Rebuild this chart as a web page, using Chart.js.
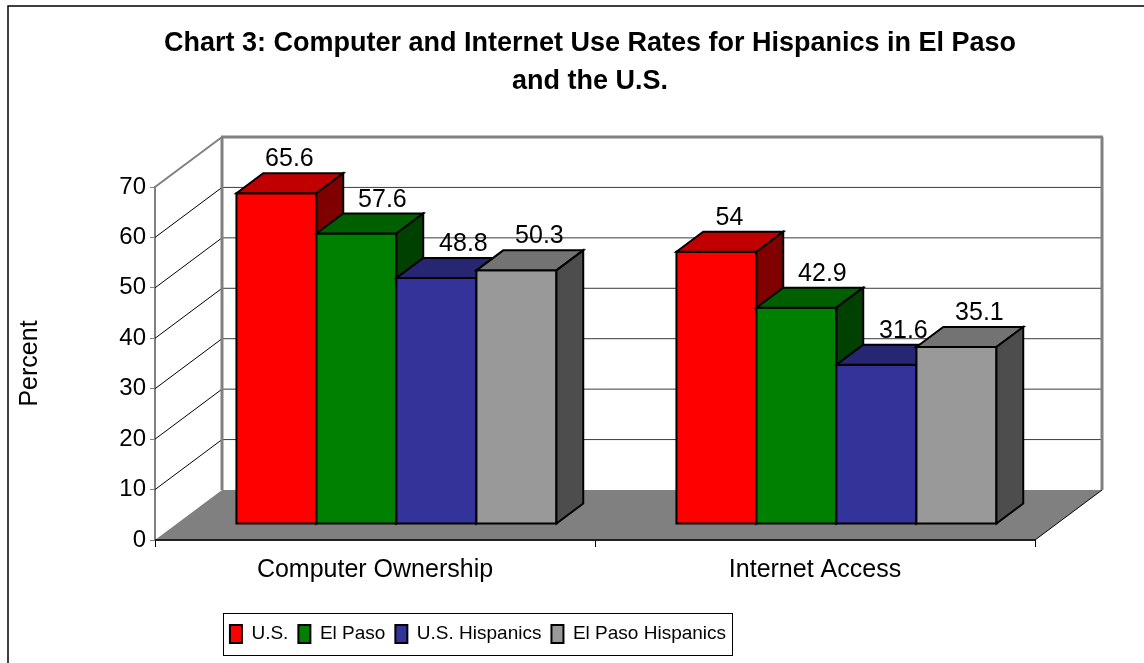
<!DOCTYPE html>
<html>
<head>
<meta charset="utf-8">
<title>Chart 3</title>
<script src="https://cdn.jsdelivr.net/npm/chart.js@4.4.1/dist/chart.umd.min.js"></script>
<style>
  html, body { margin: 0; padding: 0; background: #fff; }
  #wrap { width: 1144px; height: 663px; }
</style>
</head>
<body>
<div id="wrap"><canvas id="chart3" width="1144" height="663"></canvas></div>
<script>
// data
const categories = ["Computer Ownership", "Internet Access"];
const seriesNames = ["U.S.", "El Paso", "U.S. Hispanics", "El Paso Hispanics"];
const usValues = [65.6, 54];
const elPasoValues = [57.6, 42.9];
const usHispanicValues = [48.8, 31.6];
const elPasoHispanicValues = [50.3, 35.1];
const yTicks = [0, 10, 20, 30, 40, 50, 60, 70];

const FONT = '"Liberation Sans", Arial, sans-serif';

// draws the excel-like 3d walls, floor and boxes from the bar elements
const box3d = {
  id: "box3d",
  afterLayout(chart, args, opts) {
    const t = chart.titleBlock;
    const dt = opts.titleCenterX - (t.left + t.right) / 2;
    t.left += dt; t.right += dt;

    const lg = chart.legend;
    const lo = lg.options.labels;
    const dx = opts.legendCenterX - (lg.left + lg.right) / 2;
    const itemH = Math.max(lo.font.size, lo.boxHeight);
    const dy = opts.legendCenterY - (lg.top + lo.padding + itemH / 2);
    lg.left += dx; lg.right += dx;
    lg.top += dy; lg.bottom += dy;
  },
  beforeDatasetsDraw(chart, args, opts) {
    const { ctx, chartArea: a } = chart;
    const y = chart.scales.y;
    const DX = opts.dx, DY = opts.dy;
    const yTop = y.getPixelForValue(y.max);
    const yBot = y.getPixelForValue(y.min);

    const line = (x1, y1, x2, y2, color, w) => {
      ctx.strokeStyle = color; ctx.lineWidth = w;
      ctx.beginPath(); ctx.moveTo(x1, y1); ctx.lineTo(x2, y2); ctx.stroke();
    };
    const poly = (pts, fill) => {
      ctx.beginPath();
      ctx.moveTo(pts[0][0], pts[0][1]);
      for (let i = 1; i < pts.length; i++) ctx.lineTo(pts[i][0], pts[i][1]);
      ctx.closePath();
      ctx.fillStyle = fill; ctx.fill();
      ctx.strokeStyle = "#000"; ctx.lineWidth = 2; ctx.stroke();
    };

    ctx.save();
    ctx.lineJoin = "miter";

    // floor
    ctx.fillStyle = "#808080";
    ctx.beginPath();
    ctx.moveTo(a.left, yBot); ctx.lineTo(a.right, yBot);
    ctx.lineTo(a.right + DX, yBot + DY); ctx.lineTo(a.left + DX, yBot + DY);
    ctx.closePath(); ctx.fill();

    // gridlines on side wall + back wall
    y.ticks.forEach(t => {
      if (t.value === y.min || t.value === y.max) return;
      const py = y.getPixelForValue(t.value);
      line(a.left, py, a.left + DX, py + DY, "#000", 1);
      line(a.left + DX, py + DY, a.right + DX, py + DY, "#3a3a3a", 1);
    });

    // wall edges
    line(a.left, yTop, a.left + DX, yTop + DY, "#808080", 2);
    line(a.left + DX, yTop + DY, a.left + DX, yBot + DY, "#808080", 3);
    line(a.left + DX - 1, yTop + DY, a.right + DX + 1, yTop + DY, "#808080", 3);
    line(a.right + DX, yTop + DY, a.right + DX, yBot + DY, "#808080", 3);

    // floor edges
    line(a.right, yBot, a.right + DX, yBot + DY, "#000", 1);
    line(a.left, yBot, a.right, yBot, "#222", 2);

    // boxes
    const ox = DX * opts.front, oy = DY * opts.front;
    const bx = DX * (opts.back - opts.front), by = DY * (opts.back - opts.front);
    const metas = chart.getSortedVisibleDatasetMetas();
    const n = chart.data.labels.length;
    for (let i = 0; i < n; i++) {
      metas.forEach(meta => {
        const el = meta.data[i];
        const ds = chart.data.datasets[meta.index];
        const l = el.x - el.width / 2 + ox, r = el.x + el.width / 2 + ox;
        const t = el.y + oy, b = el.base + oy;
        poly([[l, t], [r, t], [r, b], [l, b]], ds.backgroundColor);
        poly([[l, t], [l + bx, t + by], [r + bx, t + by], [r, t]], ds.topColor);
        poly([[r, t], [r + bx, t + by], [r + bx, b + by], [r, b]], ds.sideColor);
      });
    }

    // value labels
    ctx.font = "25px " + FONT;
    ctx.fillStyle = "#000";
    ctx.textAlign = "center";
    ctx.textBaseline = "alphabetic";
    metas.forEach(meta => {
      const ds = chart.data.datasets[meta.index];
      meta.data.forEach((el, i) => {
        const x = el.x + ox + opts.labelShift[meta.index];
        ctx.fillText(String(ds.data[i]), x, el.y + oy + by - 7);
      });
    });

    ctx.restore();
    return false;
  },
  afterDraw(chart) {
    const { ctx } = chart;
    ctx.save();
    // outer frame
    ctx.strokeStyle = "#000"; ctx.lineWidth = 1.5;
    ctx.strokeRect(8, 6, 1300, 800);
    // legend frame
    const hb = chart.legend.legendHitBoxes;
    if (hb && hb.length) {
      const l = Math.min(...hb.map(h => h.left));
      const r = Math.max(...hb.map(h => h.left + h.width));
      const cy = hb[0].top + hb[0].height / 2;
      ctx.lineWidth = 1; ctx.strokeStyle = "#000";
      ctx.strokeRect(Math.round(l - 7) + 0.5, Math.round(cy - 21) + 0.5, Math.round(r - l + 13), 42);
    }
    ctx.restore();
  }
};

new Chart(document.getElementById("chart3"), {
  type: "bar",
  data: {
    labels: categories,
    datasets: [
      { label: seriesNames[0], data: usValues, backgroundColor: "#ff0000", topColor: "#c00000", sideColor: "#800000", borderColor: "#000", borderWidth: 2 },
      { label: seriesNames[1], data: elPasoValues, backgroundColor: "#008000", topColor: "#006000", sideColor: "#004000", borderColor: "#000", borderWidth: 2 },
      { label: seriesNames[2], data: usHispanicValues, backgroundColor: "#333399", topColor: "#262673", sideColor: "#1a1a4d", borderColor: "#000", borderWidth: 2 },
      { label: seriesNames[3], data: elPasoHispanicValues, backgroundColor: "#999999", topColor: "#737373", sideColor: "#4d4d4d", borderColor: "#000", borderWidth: 2 }
    ]
  },
  options: {
    responsive: false,
    animation: false,
    events: [],
    categoryPercentage: 0.7273,
    barPercentage: 1,
    layout: { padding: { left: 8, right: 109, top: 0, bottom: 34 } },
    scales: {
      x: {
        grid: { drawOnChartArea: false, drawTicks: true, tickLength: 7, color: "#000", offset: true },
        border: { display: true, color: "#222", width: 2 },
        ticks: { color: "#000", font: { family: FONT, size: 25 }, padding: 8 },
        afterFit(scale) { scale.height = 50; }
      },
      y: {
        min: yTicks[0],
        max: yTicks[yTicks.length - 1],
        ticks: { stepSize: yTicks[1] - yTicks[0], color: "#000", font: { family: FONT, size: 24 }, padding: 4 },
        grid: { drawOnChartArea: false, drawTicks: true, tickLength: 5, color: "#808080" },
        border: { display: true, color: "#808080", width: 2 },
        title: { display: true, text: "Percent", color: "#000", font: { family: FONT, size: 25 }, padding: { top: 7, bottom: 0 } },
        afterFit(scale) { scale.width = 147; }
      }
    },
    plugins: {
      title: {
        display: true,
        text: ["Chart 3: Computer and Internet Use Rates for Hispanics in El Paso", "and the U.S."],
        color: "#000",
        font: { family: FONT, size: 27, weight: "bold", lineHeight: 1.4 },
        padding: { top: 25, bottom: 86.4 }
      },
      legend: {
        position: "bottom",
        labels: { color: "#000", font: { family: FONT, size: 19 }, boxWidth: 12, boxHeight: 18, padding: 10 }
      },
      tooltip: { enabled: false },
      box3d: {
        dx: 67, dy: -50, front: 0.32, back: 0.72,
        labelShift: [13, 26, 27, 23],
        titleCenterX: 590,
        legendCenterX: 478,
        legendCenterY: 634
      }
    }
  },
  plugins: [box3d]
});
</script>
</body>
</html>
